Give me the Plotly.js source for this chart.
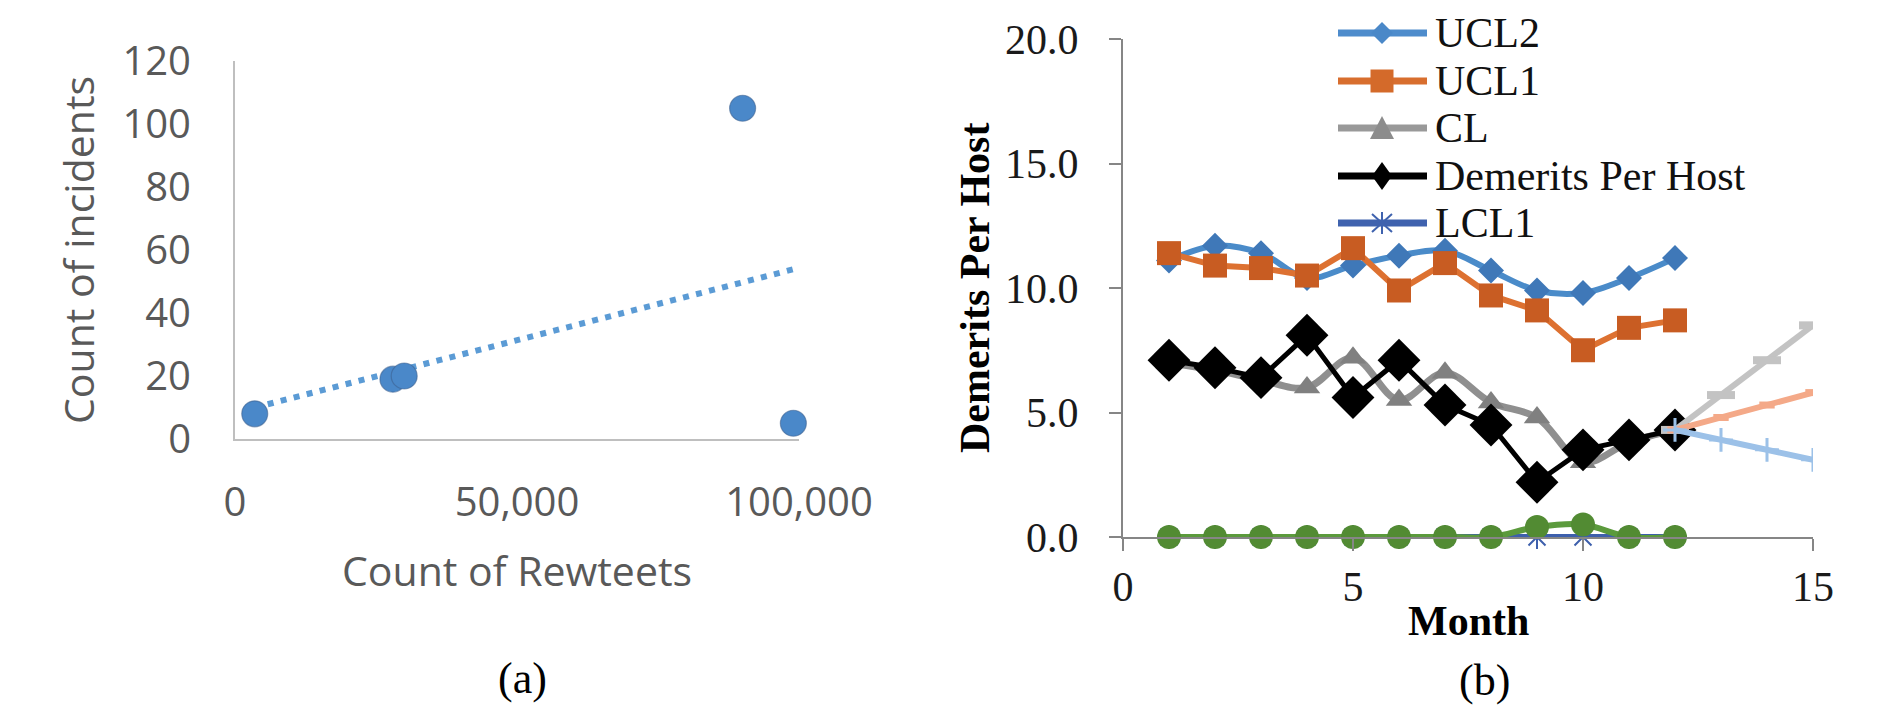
<!DOCTYPE html>
<html>
<head>
<meta charset="utf-8">
<script src="https://cdn.plot.ly/plotly-3.0.1.min.js"></script>
<style>html,body{margin:0;padding:0;background:#fff;}#chart{width:1895px;height:706px;}</style>
</head>
<body>
<div id="chart"></div>
<script>
// ---------- Data: chart (a) ----------
const retweets = [3500, 28000, 30000, 90000, 99000];
const incidents = [8, 19, 20, 105, 5];
const aXTicks = [0, 50000, 100000];
const aYTicks = [0, 20, 40, 60, 80, 100, 120];

// ---------- Data: chart (b) ----------
const months = [1, 2, 3, 4, 5, 6, 7, 8, 9, 10, 11, 12];
const ucl2 = [11.1, 11.7, 11.4, 10.4, 10.9, 11.3, 11.5, 10.7, 9.9, 9.8, 10.4, 11.2];
const ucl1 = [11.4, 10.9, 10.8, 10.5, 11.6, 9.9, 11.0, 9.7, 9.1, 7.5, 8.4, 8.7];
const cl = [7.0, 6.7, 6.3, 6.0, 7.2, 5.5, 6.6, 5.4, 4.8, 3.0, 3.8, 4.3];
const demerits = [7.1, 6.8, 6.4, 8.1, 5.6, 7.1, 5.3, 4.5, 2.2, 3.5, 3.9, 4.3];
const lcl1 = [0, 0, 0, 0, 0, 0, 0, 0, 0, 0, 0, 0];
const series6 = [0, 0, 0, 0, 0, 0, 0, 0, 0.4, 0.5, 0, 0];
const fcMonths = [12, 13, 14, 15];
const fcGray = [4.3, 5.7, 7.1, 8.5];
const fcOrange = [4.3, 4.8, 5.3, 5.8];
const fcBlue = [4.3, 3.9, 3.5, 3.1];
const legendNames = ['UCL2', 'UCL1', 'CL', 'Demerits Per Host', 'LCL1'];

// ---------- helpers ----------
const W = 1895, H = 706;
const px = x => x / W;
const py = y => 1 - y / H;

// linear trendline from data
function linfit(xs, ys) {
  const n = xs.length;
  const mx = xs.reduce((a, b) => a + b, 0) / n;
  const my = ys.reduce((a, b) => a + b, 0) / n;
  let sxy = 0, sxx = 0;
  for (let i = 0; i < n; i++) { sxy += (xs[i] - mx) * (ys[i] - my); sxx += (xs[i] - mx) ** 2; }
  const m = sxy / sxx;
  return { m: m, b: my - m * mx };
}
const fit = linfit(retweets, incidents);
const tx = [Math.min(...retweets), Math.max(...retweets)];
const ty = tx.map(x => fit.m * x + fit.b);

const serif = 'Liberation Serif, Times New Roman, serif';
const sans = 'Open Sans, sans-serif';

const traces = [
  // (a)
  { x: tx, y: ty, xaxis: 'x', yaxis: 'y', mode: 'lines', showlegend: false,
    line: { color: '#5b9bd5', width: 6, dash: '6px,7.4px' }, hoverinfo: 'skip' },
  { x: retweets, y: incidents, xaxis: 'x', yaxis: 'y', mode: 'markers', showlegend: false, cliponaxis: false,
    marker: { size: 26, color: '#4a88c9', line: { color: 'rgba(60,95,140,0.55)', width: 1.2 } } },
  // (b)
  { name: legendNames[0], x: months, y: ucl2, xaxis: 'x2', yaxis: 'y2', mode: 'lines+markers', showlegend: false,
    line: { color: '#4a8bc9', width: 6, shape: 'spline', smoothing: 1 },
    marker: { symbol: 'diamond', size: 20, color: '#3f78b8' } },
  { name: legendNames[1], x: months, y: ucl1, xaxis: 'x2', yaxis: 'y2', mode: 'lines+markers', showlegend: false,
    line: { color: '#dd7131', width: 6 },
    marker: { symbol: 'square', size: 24, color: '#c85c22' } },
  { name: legendNames[2], x: months, y: cl, xaxis: 'x2', yaxis: 'y2', mode: 'lines+markers', showlegend: false,
    line: { color: '#8f8f8f', width: 7, shape: 'spline', smoothing: 1 },
    marker: { symbol: 'triangle-up', size: 23, color: '#808080' } },
  { name: legendNames[3], x: months, y: demerits, xaxis: 'x2', yaxis: 'y2', mode: 'lines+markers', showlegend: false,
    line: { color: '#000000', width: 5 },
    marker: { symbol: 'diamond', size: 33, color: '#000000' } },
  { name: legendNames[4], x: months, y: lcl1, xaxis: 'x2', yaxis: 'y2', mode: 'lines+markers', showlegend: false, cliponaxis: false,
    line: { color: '#3d5fac', width: 6 },
    marker: { symbol: 'asterisk-open', size: 20, line: { color: '#3d5fac', width: 2 } } },
  { name: 'Series6', x: months, y: series6, xaxis: 'x2', yaxis: 'y2', mode: 'lines+markers', showlegend: false, cliponaxis: false,
    line: { color: '#5b9a3c', width: 6, shape: 'spline', smoothing: 1 },
    marker: { symbol: 'circle', size: 24, color: '#528b33' } },
  { x: fcMonths, y: fcGray, xaxis: 'x2', yaxis: 'y2', mode: 'lines+markers', showlegend: false,
    line: { color: '#c3c3c3', width: 6 },
    marker: { symbol: 'line-ew-open', size: 20, line: { color: '#a6a6a6', width: 8 } } },
  { x: fcMonths, y: fcOrange, xaxis: 'x2', yaxis: 'y2', mode: 'lines+markers', showlegend: false,
    line: { color: '#f4a988', width: 6 },
    marker: { symbol: 'line-ew-open', size: 11, line: { color: '#e8896a', width: 7 } } },
  { x: fcMonths, y: fcBlue, xaxis: 'x2', yaxis: 'y2', mode: 'lines+markers', showlegend: false,
    line: { color: '#9cc1e8', width: 6 },
    marker: { symbol: 'cross-thin-open', size: 17, line: { color: '#7aa0cf', width: 3 } } }
];

// ---------- manual legend for (b) ----------
const legRows = [33, 81, 128, 176, 223];
const legColors = ['#4e8ccc', '#d86e2e', '#999999', '#000000', '#3f62ae'];
const legMarkColors = ['#4a88c8', '#d46a2a', '#8c8c8c', '#000000', '#3f62ae'];
const lx0 = 1338, lx1 = 1427, lcx = 1382, ltx = 1433;
function pth(pts) { return 'M ' + pts.map(p => px(p[0]) + ',' + py(p[1])).join(' L ') + ' Z'; }
const shapes = [];
const annotations = [];
legRows.forEach((yy, i) => {
  shapes.push({ type: 'line', xref: 'paper', yref: 'paper', x0: px(lx0), x1: px(lx1), y0: py(yy), y1: py(yy),
    line: { color: legColors[i], width: 7 } });
  const c = legMarkColors[i];
  if (i === 0) shapes.push({ type: 'path', xref: 'paper', yref: 'paper', path: pth([[lcx - 11, yy], [lcx, yy - 11], [lcx + 11, yy], [lcx, yy + 11]]), fillcolor: c, line: { width: 0 } });
  if (i === 1) shapes.push({ type: 'path', xref: 'paper', yref: 'paper', path: pth([[lcx - 11.5, yy - 11.5], [lcx + 11.5, yy - 11.5], [lcx + 11.5, yy + 11.5], [lcx - 11.5, yy + 11.5]]), fillcolor: c, line: { width: 0 } });
  if (i === 2) shapes.push({ type: 'path', xref: 'paper', yref: 'paper', path: pth([[lcx, yy - 12], [lcx + 12, yy + 11], [lcx - 12, yy + 11]]), fillcolor: c, line: { width: 0 } });
  if (i === 3) shapes.push({ type: 'path', xref: 'paper', yref: 'paper', path: pth([[lcx - 10, yy], [lcx, yy - 14], [lcx + 10, yy], [lcx, yy + 14]]), fillcolor: c, line: { width: 0 } });
  if (i === 4) shapes.push({ type: 'path', xref: 'paper', yref: 'paper',
    path: 'M ' + px(lcx) + ',' + py(yy - 11) + ' L ' + px(lcx) + ',' + py(yy + 11) +
          ' M ' + px(lcx - 10) + ',' + py(yy - 9) + ' L ' + px(lcx + 10) + ',' + py(yy + 9) +
          ' M ' + px(lcx - 10) + ',' + py(yy + 9) + ' L ' + px(lcx + 10) + ',' + py(yy - 9),
    line: { color: c, width: 2 } });
  annotations.push({ text: legendNames[i], xref: 'paper', yref: 'paper', x: px(ltx), y: py(yy), xanchor: 'left', yanchor: 'middle',
    showarrow: false, font: { family: serif, size: 42, color: '#111111' } });
});

// axis titles / captions
annotations.push(
  { text: 'Count of incidents', xref: 'paper', yref: 'paper', x: px(78), y: py(250), textangle: -90, showarrow: false,
    xanchor: 'center', yanchor: 'middle', font: { family: sans, size: 41, color: '#595959' } },
  { text: 'Count of Rewteets', xref: 'paper', yref: 'paper', x: px(517), y: py(570), showarrow: false,
    xanchor: 'center', yanchor: 'middle', font: { family: sans, size: 41, color: '#595959' } },
  { text: '(a)', xref: 'paper', yref: 'paper', x: px(522), y: py(678), showarrow: false,
    xanchor: 'center', yanchor: 'middle', font: { family: serif, size: 44, color: '#000000' } },
  { text: '<b>Demerits Per Host</b>', xref: 'paper', yref: 'paper', x: px(975), y: py(288), textangle: -90, showarrow: false,
    xanchor: 'center', yanchor: 'middle', font: { family: serif, size: 42, color: '#000000' } },
  { text: '<b>Month</b>', xref: 'paper', yref: 'paper', x: px(1468), y: py(621), showarrow: false,
    xanchor: 'center', yanchor: 'middle', font: { family: serif, size: 42, color: '#000000' } },
  { text: '(b)', xref: 'paper', yref: 'paper', x: px(1484), y: py(680), showarrow: false,
    xanchor: 'center', yanchor: 'middle', font: { family: serif, size: 44, color: '#000000' } }
);

const layout = {
  width: W, height: H,
  margin: { l: 0, r: 0, t: 0, b: 0, pad: 0 },
  paper_bgcolor: '#ffffff', plot_bgcolor: '#ffffff',
  showlegend: false,
  xaxis: { domain: [px(235), px(799)], anchor: 'y', range: [0, 100000], tickvals: aXTicks, tickformat: ',',
    showline: true, linecolor: '#bfbfbf', linewidth: 2, showgrid: false, zeroline: false, ticks: '',
    ticklabelstandoff: 27, tickfont: { family: sans, size: 40, color: '#595959' }, fixedrange: true },
  yaxis: { domain: [py(439), py(61)], anchor: 'x', range: [0, 120], tickvals: aYTicks,
    showline: true, linecolor: '#bfbfbf', linewidth: 2, showgrid: false, zeroline: false, ticks: '',
    ticklabelstandoff: 34, tickfont: { family: sans, size: 40, color: '#595959' }, fixedrange: true },
  xaxis2: { domain: [px(1123), px(1813)], anchor: 'y2', range: [0, 15], dtick: 5, tick0: 0,
    showline: true, linecolor: '#868686', linewidth: 2, showgrid: false, zeroline: false,
    ticks: 'outside', ticklen: 12, tickwidth: 2, tickcolor: '#868686',
    ticklabelstandoff: 0, tickfont: { family: serif, size: 42, color: '#1a1a1a' }, fixedrange: true },
  yaxis2: { domain: [py(537), py(39)], anchor: 'x2', range: [0, 20], dtick: 5, tick0: 0, tickformat: '.1f',
    showline: true, linecolor: '#868686', linewidth: 2, showgrid: false, zeroline: false,
    ticks: 'outside', ticklen: 12, tickwidth: 2, tickcolor: '#868686',
    ticklabelstandoff: 22, tickfont: { family: serif, size: 42, color: '#1a1a1a' }, fixedrange: true },
  shapes: shapes,
  annotations: annotations
};

Plotly.newPlot('chart', traces, layout, { displayModeBar: false, staticPlot: true });
</script>
</body>
</html>
